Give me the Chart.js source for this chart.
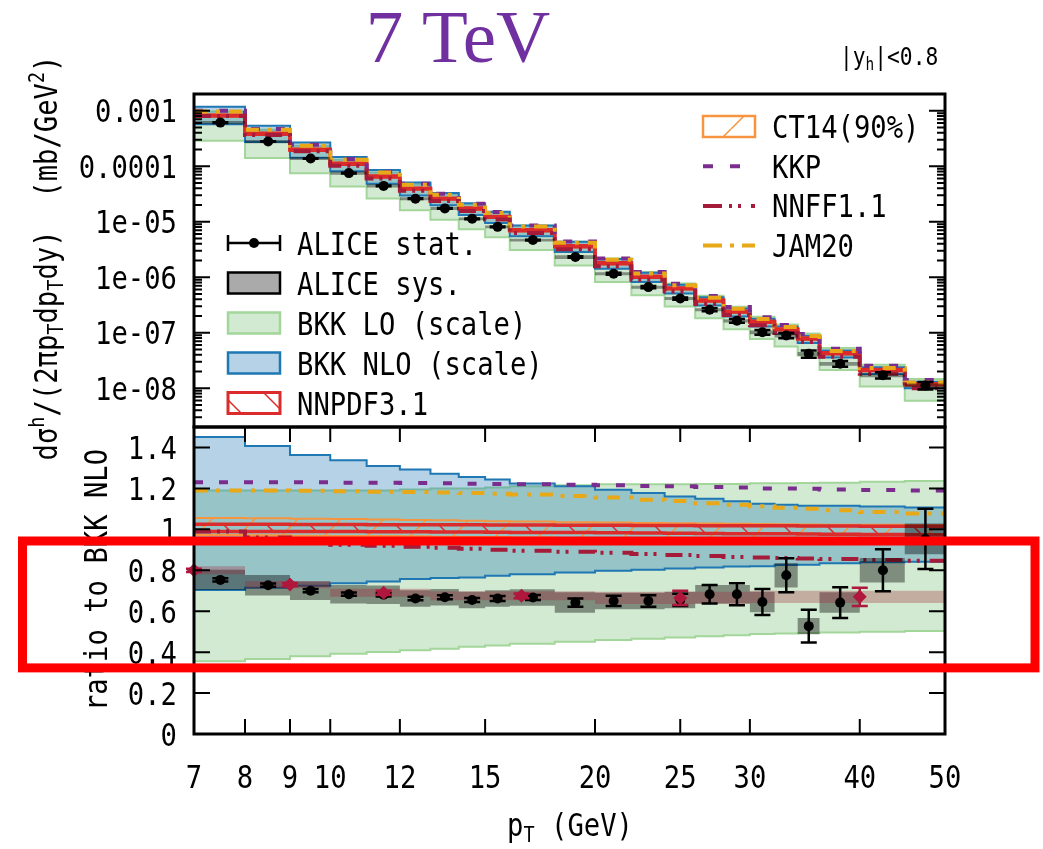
<!DOCTYPE html>
<html>
<head>
<meta charset="utf-8">
<title>7 TeV hadron spectrum</title>
<script src="https://cdn.jsdelivr.net/npm/chart.js@4.4.1/dist/chart.umd.min.js"></script>
<style>
  html, body { margin: 0; padding: 0; background: #fff; }
  #wrap { position: relative; width: 1043px; height: 849px; }
  #wrap canvas { position: absolute; left: 0; top: 0; }
</style>
</head>
<body>
<div id="wrap">
  <canvas id="ratio" width="1043" height="849"></canvas>
  <canvas id="spectrum" width="1043" height="849"></canvas>
</div>
<script>
const MONO = '"DejaVu Sans Mono", monospace';
const SQUEEZE = 0.85;
const FONT = 32;

// pT binning (GeV)
const ptEdges = [7, 8, 9, 10, 11, 12, 13, 14, 15, 16, 18, 20, 22, 24, 26, 28, 30, 32, 34, 36, 40, 45, 50];
const ptCentres = [7.5, 8.5, 9.5, 10.5, 11.5, 12.5, 13.5, 14.5, 15.5, 17, 19, 21, 23, 25, 27, 29, 31, 33, 35, 38, 42.5, 47.5];

// BKK NLO central cross section per bin (mb/GeV^2)
const nloCentral = [8.1e-4, 3.82e-4, 1.97e-4, 1.10e-4, 6.5e-5, 3.93e-5, 2.6e-5, 1.72e-5, 1.22e-5, 7.0e-6, 3.6e-6,
  1.78e-6, 1.02e-6, 6.3e-7, 3.8e-7, 2.4e-7, 1.58e-7, 1.15e-7, 7.9e-8, 4.3e-8, 2.14e-8, 1.18e-8];

// everything below is a ratio to BKK NLO
const nloHi = [1.451, 1.407, 1.363, 1.337, 1.309, 1.292, 1.271, 1.256, 1.243, 1.224, 1.21, 1.194, 1.178, 1.161, 1.15, 1.137, 1.125, 1.12, 1.115, 1.115, 1.112, 1.107];
const nloLo = [0.704, 0.715, 0.724, 0.736, 0.745, 0.757, 0.762, 0.765, 0.773, 0.781, 0.789, 0.798, 0.802, 0.809, 0.814, 0.819, 0.82, 0.826, 0.827, 0.834, 0.839, 0.842];
const loHi = [1.19, 1.19, 1.19, 1.19, 1.19, 1.195, 1.2, 1.2, 1.205, 1.21, 1.215, 1.22, 1.22, 1.22, 1.222, 1.222, 1.225, 1.225, 1.226, 1.228, 1.232, 1.236];
const loLo = [0.355, 0.367, 0.38, 0.392, 0.401, 0.409, 0.416, 0.426, 0.432, 0.441, 0.451, 0.459, 0.465, 0.472, 0.478, 0.483, 0.488, 0.491, 0.493, 0.496, 0.5, 0.503];
const nnpdfHi = [1.025, 1.025, 1.024, 1.024, 1.023, 1.023, 1.022, 1.022, 1.021, 1.021, 1.02, 1.02, 1.019, 1.019, 1.018, 1.018, 1.017, 1.017, 1.016, 1.016, 1.015, 1.015];
const nnpdfLo = [0.99, 0.99, 0.989, 0.989, 0.988, 0.988, 0.987, 0.987, 0.986, 0.985, 0.984, 0.983, 0.982, 0.981, 0.98, 0.979, 0.978, 0.978, 0.977, 0.976, 0.975, 0.974];
const ct14Hi = [1.055, 1.054, 1.052, 1.05, 1.048, 1.046, 1.044, 1.042, 1.04, 1.038, 1.035, 1.033, 1.031, 1.03, 1.028, 1.027, 1.026, 1.025, 1.024, 1.023, 1.022, 1.021];
const ct14Lo = [0.972, 0.971, 0.969, 0.968, 0.967, 0.966, 0.964, 0.963, 0.962, 0.96, 0.958, 0.957, 0.955, 0.954, 0.953, 0.952, 0.951, 0.95, 0.949, 0.948, 0.947, 0.946];
const kkp = [1.23, 1.23, 1.23, 1.228, 1.228, 1.226, 1.225, 1.223, 1.222, 1.22, 1.218, 1.215, 1.212, 1.21, 1.207, 1.205, 1.2, 1.2, 1.198, 1.195, 1.192, 1.19];
const nnff = [0.99, 0.96, 0.94, 0.925, 0.92, 0.915, 0.91, 0.905, 0.9, 0.895, 0.89, 0.885, 0.88, 0.875, 0.87, 0.865, 0.862, 0.86, 0.858, 0.855, 0.85, 0.847];
const jam20 = [1.19, 1.19, 1.188, 1.186, 1.184, 1.182, 1.18, 1.177, 1.174, 1.17, 1.163, 1.156, 1.145, 1.138, 1.128, 1.12, 1.113, 1.105, 1.1, 1.093, 1.085, 1.077];

const aliceRatio = [0.753, 0.727, 0.7, 0.683, 0.68, 0.662, 0.668, 0.655, 0.662, 0.667, 0.642, 0.65, 0.65, 0.655, 0.683, 0.683, 0.645, 0.776, 0.527, 0.642, 0.8, 0.953];
const aliceStat = [0.008, 0.008, 0.008, 0.008, 0.008, 0.008, 0.01, 0.01, 0.012, 0.012, 0.02, 0.025, 0.028, 0.03, 0.045, 0.054, 0.064, 0.083, 0.08, 0.075, 0.103, 0.147];
const aliceSys = [0.05, 0.05, 0.045, 0.045, 0.045, 0.04, 0.04, 0.04, 0.04, 0.04, 0.05, 0.04, 0.04, 0.04, 0.045, 0.045, 0.05, 0.06, 0.04, 0.05, 0.06, 0.075];

// second ALICE set, coarser bins
const piEdges = [6, 8, 10, 13, 20, 30, 50];
const piCentres = [7, 9, 11.5, 16.5, 25, 40];
const piRatio = [0.8, 0.73, 0.69, 0.675, 0.665, 0.67];
const piStat = [0.008, 0.008, 0.01, 0.012, 0.035, 0.045];
const piSys = [0.02, 0.018, 0.02, 0.022, 0.03, 0.03];

const xTicks = [7, 8, 9, 10, 12, 15, 20, 25, 30, 40, 50];
const xTickLabels = ['7', '8', '9', '10', '12', '15', '20', '25', '30', '40', '50'];
const specTicks = [1e-3, 1e-4, 1e-5, 1e-6, 1e-7, 1e-8];
const specTickLabels = ['0.001', '0.0001', '1e-05', '1e-06', '1e-07', '1e-08'];
const ratioTicks = [0, 0.2, 0.4, 0.6, 0.8, 1, 1.2, 1.4];
const ratioTickLabels = ['0', '0.2', '0.4', '0.6', '0.8', '1', '1.2', '1.4'];

const LO_FILL = 'rgba(44,160,44,0.22)', LO_LINE = '#a3d69a';
const NLO_FILL = 'rgba(31,119,180,0.33)', NLO_LINE = '#1f77b4';
const NNPDF_LINE = '#dc2b2b', CT14_LINE = '#f7943f';
const KKP_LINE = '#7b2d8e', NNFF_LINE = '#a51c3a', JAM_LINE = '#e8a817';
const SYS_FILL = 'rgba(0,0,0,0.4)';
const PI_COLOR = '#b0173c', PI_FILL = 'rgba(165,30,50,0.3)';

const stepPoints = (vals, edges) => {
  const pts = vals.map((v, i) => ({ x: edges[i], y: v }));
  pts.push({ x: edges[edges.length - 1], y: vals[vals.length - 1] });
  return pts;
};
const shift = (a, b, s) => a.map((v, i) => v + s * b[i]);

function hatch(ctx, color, step, width, slope) {
  const tile = document.createElement('canvas');
  tile.width = tile.height = step;
  const g = tile.getContext('2d');
  g.strokeStyle = color;
  g.lineWidth = width;
  g.beginPath();
  for (const o of [-step, 0, step]) {
    if (slope > 0) { g.moveTo(o, step); g.lineTo(o + step, 0); }
    else { g.moveTo(o, 0); g.lineTo(o + step, step); }
  }
  g.stroke();
  return ctx.createPattern(tile, 'repeat');
}

// text with sub/superscripts, squeezed horizontally
function drawRuns(ctx, runs, x, y, o) {
  const size = o.size, fam = o.family || MONO, sq = o.squeeze ?? SQUEEZE;
  const parts = runs.map(r => {
    const s = (r.sub || r.sup) ? size * 0.68 : size;
    ctx.font = `${s}px ${fam}`;
    return { ...r, s, w: ctx.measureText(r.t).width };
  });
  const total = parts.reduce((a, p) => a + p.w, 0);
  ctx.save();
  ctx.translate(x, y);
  if (o.rotate) ctx.rotate(o.rotate);
  ctx.scale(sq, 1);
  let cx = o.align === 'center' ? -total / 2 : o.align === 'right' ? -total : 0;
  ctx.fillStyle = o.color || '#000';
  ctx.textBaseline = 'alphabetic';
  ctx.textAlign = 'left';
  for (const p of parts) {
    ctx.font = `${p.s}px ${fam}`;
    const dy = p.sub ? size * 0.2 : p.sup ? -size * 0.42 : 0;
    ctx.fillText(p.t, cx, dy);
    cx += p.w;
  }
  ctx.restore();
}

function panelDatasets(by, pat) {
  const sc = v => (by ? v.map((r, i) => r * by[i]) : v);
  const S = v => stepPoints(sc(v), ptEdges);
  const sets = [];
  const band = (label, hi, lo, fill, line, width, order) => {
    sets.push({ label, data: S(hi), fill: '+1', backgroundColor: fill, borderColor: line, borderWidth: width, order });
    sets.push({ label: label + ' lower', data: S(lo), fill: false, borderColor: line, borderWidth: width, order: order - 0.5 });
  };
  const curve = (label, vals, line, dash, order) =>
    sets.push({ label, data: S(vals), fill: false, borderColor: line, borderWidth: 4, borderDash: dash, order });

  band('BKK LO (scale)', loHi, loLo, LO_FILL, LO_LINE, 2, 20);
  band('BKK NLO (scale)', nloHi, nloLo, NLO_FILL, NLO_LINE, 2, 18);
  band('CT14(90%)', ct14Hi, ct14Lo, pat.ct14, CT14_LINE, 2, 16);
  band('NNPDF3.1', nnpdfHi, nnpdfLo, pat.nnpdf, NNPDF_LINE, 3.5, 14);
  curve('KKP', kkp, KKP_LINE, [9, 16], 12);
  curve('JAM20', jam20, JAM_LINE, [13, 9, 4, 9], 11);
  curve('NNFF1.1', nnff, NNFF_LINE, [17, 6, 3, 6, 3, 10], 10);
  band('ALICE sys.', shift(aliceRatio, aliceSys, 1), shift(aliceRatio, aliceSys, -1), SYS_FILL, 'rgba(0,0,0,0)', 0, 8);
  const yv = sc(aliceRatio);
  sets.push({
    label: 'ALICE stat.', data: ptCentres.map((x, i) => ({ x, y: yv[i] })), showLine: false,
    pointRadius: 5, pointBackgroundColor: '#000', pointBorderWidth: 0,
    errors: sc(aliceStat), errColor: '#000', order: 2
  });
  return sets;
}

const errorBars = {
  id: 'errorBars',
  beforeDatasetDraw(chart, { index }) {
    const ds = chart.data.datasets[index];
    if (!ds.errors) return;
    const { ctx, scales: { x, y } } = chart;
    ctx.save();
    ctx.strokeStyle = ds.errColor;
    ctx.lineWidth = 2.5;
    ctx.beginPath();
    ds.data.forEach((p, i) => {
      const px = x.getPixelForValue(p.x);
      const y0 = y.getPixelForValue(p.y - ds.errors[i]);
      const y1 = y.getPixelForValue(p.y + ds.errors[i]);
      ctx.moveTo(px, y0); ctx.lineTo(px, y1);
      ctx.moveTo(px - 8, y0); ctx.lineTo(px + 8, y0);
      ctx.moveTo(px - 8, y1); ctx.lineTo(px + 8, y1);
    });
    ctx.stroke();
    ctx.restore();
  }
};

// inward tick marks and the box round each panel
const frame = {
  id: 'frame',
  afterDatasetsDraw(chart, args, opts) {
    const { ctx, chartArea: a, scales: { x, y } } = chart;
    ctx.save();
    ctx.strokeStyle = '#000';
    ctx.lineWidth = 2;
    ctx.beginPath();
    for (const v of opts.yMajor) {
      const py = y.getPixelForValue(v);
      ctx.moveTo(a.left, py); ctx.lineTo(a.left + 16, py);
      ctx.moveTo(a.right, py); ctx.lineTo(a.right - 16, py);
    }
    for (const v of opts.yMinor || []) {
      const py = y.getPixelForValue(v);
      ctx.moveTo(a.left, py); ctx.lineTo(a.left + 8, py);
      ctx.moveTo(a.right, py); ctx.lineTo(a.right - 8, py);
    }
    for (const v of opts.xMajor || []) {
      const px = x.getPixelForValue(v);
      ctx.moveTo(px, a.top); ctx.lineTo(px, a.top + 15);
      ctx.moveTo(px, a.bottom); ctx.lineTo(px, a.bottom - 15);
    }
    ctx.stroke();
    ctx.lineWidth = 3;
    ctx.strokeRect(a.left, a.top, a.right - a.left, a.bottom - a.top);
    ctx.restore();
  }
};

function chartOptions(yScale, padding, frameOpts) {
  return {
    responsive: false,
    animation: false,
    events: [],
    layout: { padding },
    datasets: { line: { stepped: true, pointRadius: 0, borderCapStyle: 'butt' } },
    plugins: { legend: { display: false }, tooltip: { enabled: false }, frame: frameOpts },
    scales: {
      x: { type: 'logarithmic', min: 7, max: 50, display: false },
      y: { ...yScale, display: false }
    }
  };
}

// ---------- spectrum panel ----------
const specCanvas = document.getElementById('spectrum');
const specCtx = specCanvas.getContext('2d');
const specPat = {
  ct14: hatch(specCtx, CT14_LINE, 43, 1.5, 1),
  nnpdf: hatch(specCtx, NNPDF_LINE, 43, 1.5, -1)
};
const specMinor = [];
for (let d = -9; d <= -3; d++) {
  for (let k = 2; k <= 9; k++) {
    const v = k * Math.pow(10, d);
    if (v > 2e-9 && v < 2e-3) specMinor.push(v);
  }
}

const legendLeft = [
  { label: 'ALICE stat.', kind: 'stat' },
  { label: 'ALICE sys.', kind: 'box', fill: '#aaaaaa', stroke: '#000', lw: 2.5 },
  { label: 'BKK LO (scale)', kind: 'box', fill: LO_FILL, stroke: LO_LINE, lw: 2.5 },
  { label: 'BKK NLO (scale)', kind: 'box', fill: NLO_FILL, stroke: NLO_LINE, lw: 2.5 },
  { label: 'NNPDF3.1', kind: 'box', fill: specPat.nnpdf, stroke: NNPDF_LINE, lw: 3 }
];
const legendRight = [
  { label: 'CT14(90%)', kind: 'box', fill: specPat.ct14, stroke: CT14_LINE, lw: 2.5 },
  { label: 'KKP', kind: 'line', stroke: KKP_LINE, dash: [10, 17] },
  { label: 'NNFF1.1', kind: 'line', stroke: NNFF_LINE, dash: [19, 7, 3, 6, 3, 10] },
  { label: 'JAM20', kind: 'line', stroke: JAM_LINE, dash: [19, 8, 4, 8] }
];

function drawLegend(ctx, rows, x0, x1, yTop, step, textX) {
  rows.forEach((r, i) => {
    const cy = yTop + i * step;
    ctx.save();
    if (r.kind === 'stat') {
      ctx.strokeStyle = '#000';
      ctx.lineWidth = 2.5;
      ctx.beginPath();
      ctx.moveTo(x0, cy); ctx.lineTo(x1, cy);
      ctx.moveTo(x0, cy - 8); ctx.lineTo(x0, cy + 8);
      ctx.moveTo(x1, cy - 8); ctx.lineTo(x1, cy + 8);
      ctx.stroke();
      ctx.fillStyle = '#000';
      ctx.beginPath();
      ctx.arc((x0 + x1) / 2, cy, 5, 0, Math.PI * 2);
      ctx.fill();
    } else if (r.kind === 'box') {
      ctx.fillStyle = r.fill;
      ctx.fillRect(x0, cy - 10.5, x1 - x0, 21);
      ctx.strokeStyle = r.stroke;
      ctx.lineWidth = r.lw;
      ctx.strokeRect(x0, cy - 10.5, x1 - x0, 21);
    } else {
      ctx.strokeStyle = r.stroke;
      ctx.lineWidth = 4;
      ctx.setLineDash(r.dash);
      ctx.beginPath();
      ctx.moveTo(x0, cy); ctx.lineTo(x1, cy);
      ctx.stroke();
    }
    ctx.restore();
    drawRuns(ctx, [{ t: r.label }], textX, cy + 11.5, { size: FONT });
  });
}

const spectrumDecor = {
  id: 'spectrumDecor',
  afterDraw(chart) {
    const { ctx, scales: { y } } = chart;
    specTicks.forEach((v, i) =>
      drawRuns(ctx, [{ t: specTickLabels[i] }], 177, y.getPixelForValue(v) + 11.5, { size: FONT, align: 'right' }));
    drawRuns(ctx, [
      { t: 'dσ' }, { t: 'h', sup: true }, { t: '/(2πp' }, { t: 'T', sub: true }, { t: 'dp' }, { t: 'T', sub: true },
      { t: 'dy)  (mb/GeV' }, { t: '2', sup: true }, { t: ')' }
    ], 57, 258, { size: FONT, align: 'center', rotate: -Math.PI / 2 });
    ctx.save();
    ctx.font = '75px "Liberation Serif", serif';
    ctx.fillStyle = '#7030a0';
    ctx.textAlign = 'center';
    ctx.fillText('7 TeV', 458, 62);
    ctx.restore();
    drawRuns(ctx, [{ t: '|y' }, { t: 'h', sub: true }, { t: '|<0.8' }], 840, 65, { size: 25 });
    drawLegend(ctx, legendLeft, 228, 280, 243, 40, 297);
    drawLegend(ctx, legendRight, 703, 755, 126.5, 39.7, 772);
  }
};

new Chart(specCanvas, {
  type: 'line',
  data: { datasets: panelDatasets(nloCentral, specPat) },
  options: chartOptions({ type: 'logarithmic', min: 2e-9, max: 2e-3 },
    { left: 194, right: 98, top: 94, bottom: 422 },
    { yMajor: specTicks, yMinor: specMinor }),
  plugins: [errorBars, frame, spectrumDecor]
});

// ---------- ratio panel ----------
const ratioCanvas = document.getElementById('ratio');
const ratioCtx = ratioCanvas.getContext('2d');
const ratioPat = {
  ct14: hatch(ratioCtx, CT14_LINE, 43, 1.5, 1),
  nnpdf: hatch(ratioCtx, NNPDF_LINE, 43, 1.5, -1)
};
const ratioSets = panelDatasets(null, ratioPat);
ratioSets.push(
  { label: 'pi sys', data: stepPoints(shift(piRatio, piSys, 1), piEdges), fill: '+1', backgroundColor: PI_FILL, borderColor: 'rgba(0,0,0,0)', borderWidth: 0, order: 7 },
  { label: 'pi sys lower', data: stepPoints(shift(piRatio, piSys, -1), piEdges), fill: false, borderColor: 'rgba(0,0,0,0)', borderWidth: 0, order: 6.5 },
  {
    label: 'pi', data: piCentres.map((x, i) => ({ x, y: piRatio[i] })), showLine: false, clip: false,
    pointStyle: 'rectRot', pointRadius: 7, pointBackgroundColor: PI_COLOR, pointBorderWidth: 0,
    errors: piStat, errColor: PI_COLOR, order: 1
  }
);

// highlighted ratio window
const highlight = { lo: 0.323, hi: 0.943 };

const ratioDecor = {
  id: 'ratioDecor',
  afterDraw(chart) {
    const { ctx, scales: { x, y } } = chart;
    ratioTicks.forEach((v, i) =>
      drawRuns(ctx, [{ t: ratioTickLabels[i] }], 177, y.getPixelForValue(v) + 11.5, { size: FONT, align: 'right' }));
    xTicks.forEach((v, i) =>
      drawRuns(ctx, [{ t: xTickLabels[i] }], x.getPixelForValue(v), 788, { size: FONT, align: 'center' }));
    drawRuns(ctx, [{ t: 'p' }, { t: 'T', sub: true }, { t: ' (GeV)' }], 570, 836, { size: FONT, align: 'center' });
    drawRuns(ctx, [{ t: 'ratio to BKK NLO' }], 107, 580, { size: FONT, align: 'center', rotate: -Math.PI / 2 });
    const top = y.getPixelForValue(highlight.hi), bot = y.getPixelForValue(highlight.lo);
    ctx.save();
    ctx.strokeStyle = '#ff0000';
    ctx.lineWidth = 9;
    ctx.strokeRect(22.5, top, 1035 - 22.5, bot - top);
    ctx.restore();
  }
};

new Chart(ratioCanvas, {
  type: 'line',
  data: { datasets: ratioSets },
  options: chartOptions({ type: 'linear', min: 0, max: 1.5 },
    { left: 194, right: 98, top: 427, bottom: 115 },
    { yMajor: ratioTicks, xMajor: xTicks.slice(1, -1) }),
  plugins: [errorBars, frame, ratioDecor]
});
</script>
</body>
</html>
